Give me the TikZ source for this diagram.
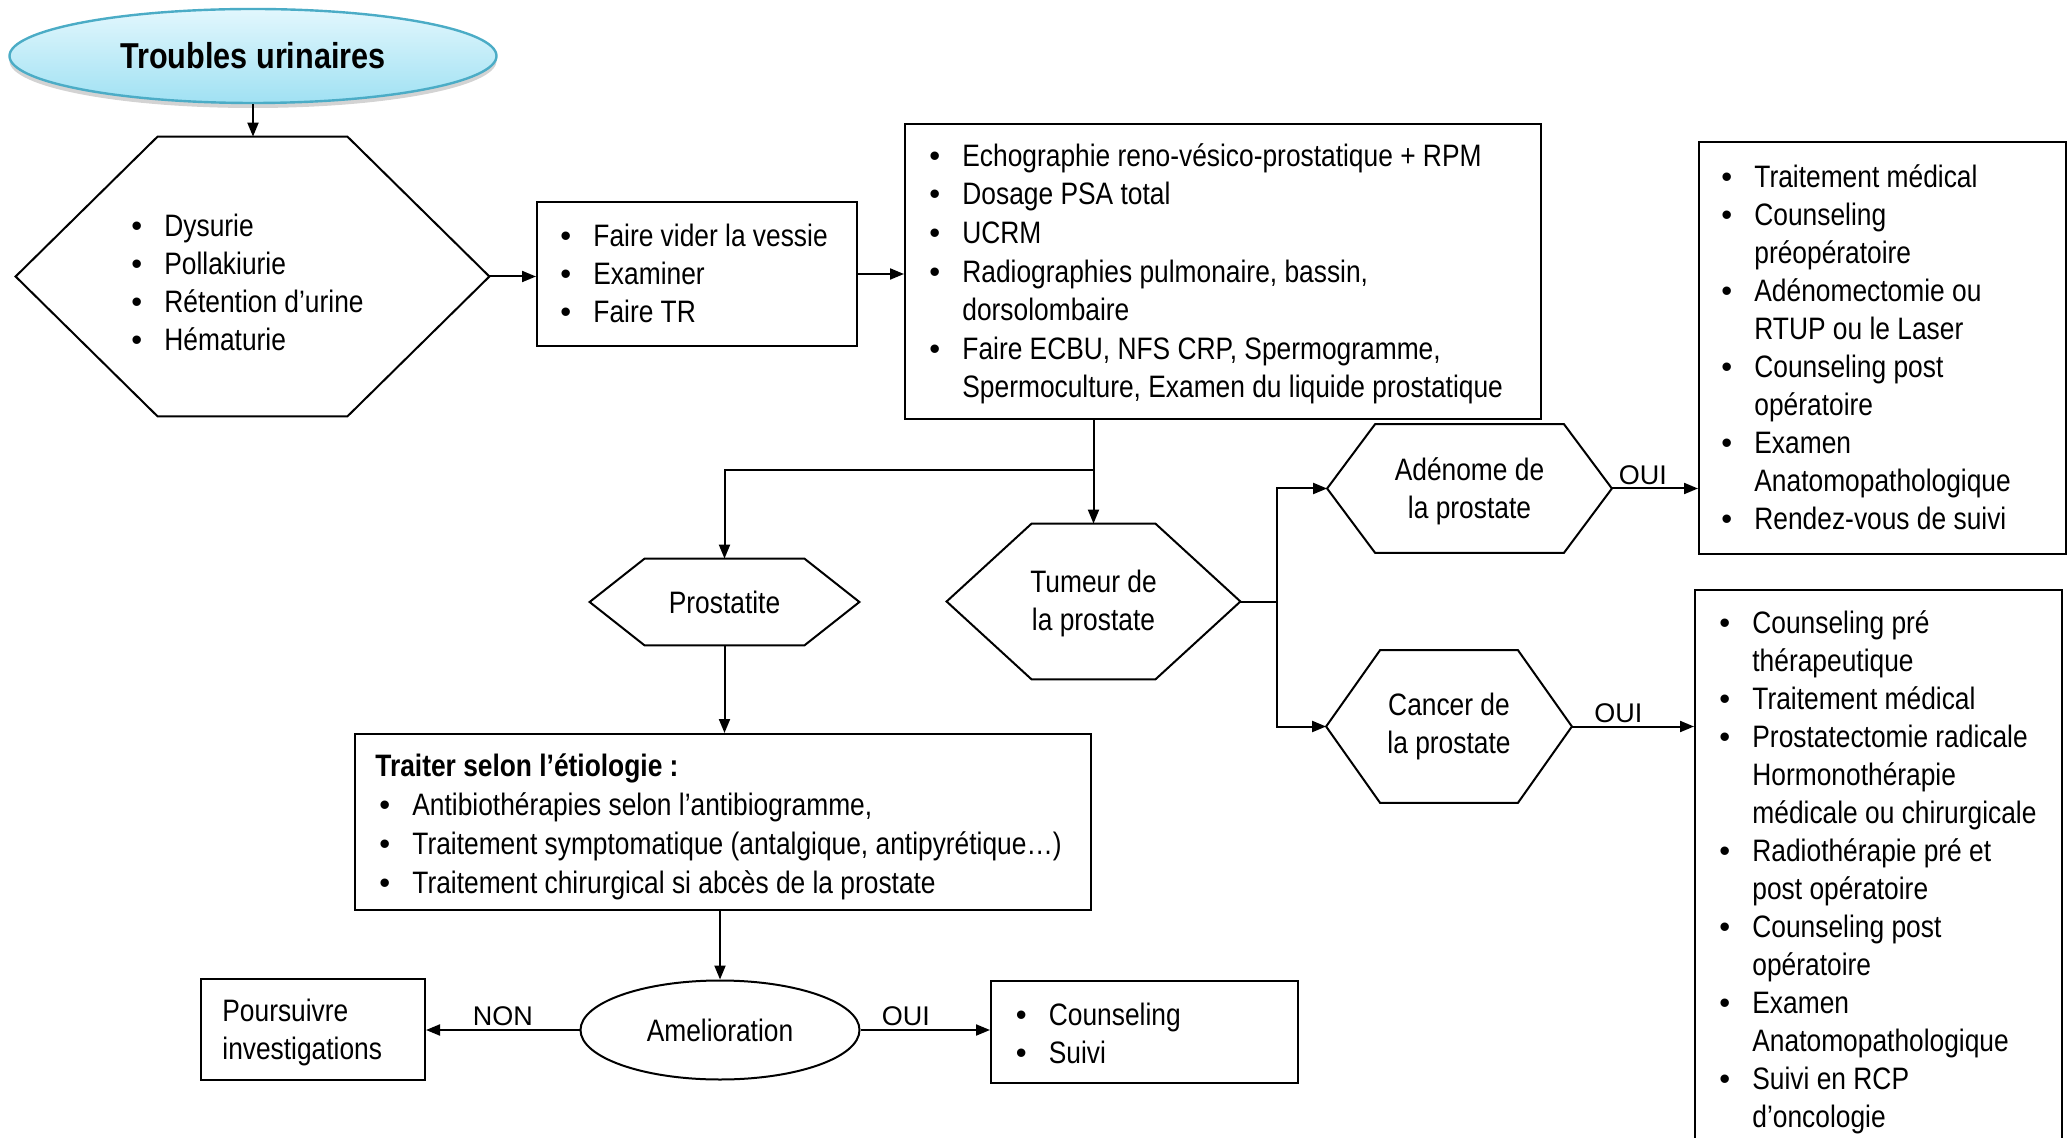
\documentclass[tikz,border=0pt]{standalone}
\usepackage{fontspec}
\setmainfont{Liberation Sans}[FakeStretch=0.85]
\newfontfamily\lblfont{Liberation Sans}
\newfontfamily\bulfont{Liberation Sans}
\usetikzlibrary{shapes.geometric,arrows.meta,shadows}

\definecolor{ellborder}{HTML}{4BACC6}
\definecolor{elltop}{HTML}{E2F7FD}
\definecolor{ellbot}{HTML}{A0E1F3}

\newcommand\myb{\makebox[16.5pt][l]{\bulfont •}}
\newcommand\myind{\hspace*{16.5pt}}
\newcommand\hexdraw[2]{\draw[hexline] ([xshift=#2]#1.north west) -- ([xshift=-#2]#1.north east) -- (#1.east) -- ([xshift=-#2]#1.south east) -- ([xshift=#2]#1.south west) -- (#1.west) -- cycle;}

\begin{document}
\begin{tikzpicture}[x=0.5pt,y=-0.5pt,
  font=\fontsize{15.5pt}{19pt}\selectfont,
  box/.style={draw, rectangle, inner sep=0pt, line width=1pt},
  hexnode/.style={rectangle, inner sep=0pt, align=center},
  hexline/.style={line width=1pt, line join=miter},
  txt/.style={anchor=west, align=left, inner sep=0pt},
  arr/.style={-{Triangle[length=7pt,width=5.5pt]}, line width=1pt},
  plain/.style={line width=1pt},
  lbl/.style={font=\lblfont\fontsize{13.5pt}{16pt}\selectfont, inner sep=1.5pt}]

\useasboundingbox (0,0) rectangle (2071,1138);
\clip (0,0) rectangle (2071,1138);

% Title ellipse
\node[ellipse, draw=ellborder, line width=1.2pt, top color=elltop, bottom color=ellbot,
      drop shadow={shadow xshift=0pt, shadow yshift=-2.5pt, opacity=0.35},
      minimum width=243.5pt, minimum height=47pt, inner sep=0pt,
      font=\fontsize{18pt}{22pt}\selectfont\bfseries] (troubles) at (253,56) {Troubles urinaires};

% Symptoms hexagon
\node[hexnode, minimum width=236.5pt, minimum height=139.5pt] (hexSym) at (252.5,276.5) {};
\hexdraw{hexSym}{71pt}
\node[txt] (symtext) at (131,282) {\myb Dysurie\\ \myb Pollakiurie\\ \myb Rétention d’urine\\ \myb Hématurie};

% Box 2
\node[box, minimum width=160pt, minimum height=72pt] (box2) at (697,274) {};
\node[txt] (box2t) at (560,273) {\myb Faire vider la vessie\\ \myb Examiner\\ \myb Faire TR};

% Box 3
\node[box, minimum width=318pt, minimum height=147.5pt] (box3) at (1223,271.5) {};
\node[txt, font=\fontsize{15.5pt}{19.3pt}\selectfont] (box3t) at (929,274) {\myb Echographie reno-vésico-prostatique + RPM\\ \myb Dosage PSA total\\ \myb UCRM\\ \myb Radiographies pulmonaire, bassin,\\ \myind dorsolombaire\\ \myb Faire ECBU, NFS CRP, Spermogramme,\\ \myind Spermoculture, Examen du liquide prostatique};

% Hexagons
\node[hexnode, minimum width=134.5pt, minimum height=43pt] (prost) at (724.5,602) {Prostatite};
\hexdraw{prost}{27.5pt}
\node[hexnode, minimum width=146.5pt, minimum height=77.5pt] (tumeur) at (1093.5,601.5) {\rule{0pt}{13pt}Tumeur de\\ la prostate};
\hexdraw{tumeur}{42.5pt}
\node[hexnode, minimum width=142pt, minimum height=64pt] (adenome) at (1469.5,488.5) {\rule{0pt}{14pt}Adénome de\\ la prostate};
\hexdraw{adenome}{24pt}
\node[hexnode, minimum width=122.5pt, minimum height=76pt] (cancer) at (1449,726.5) {Cancer de\\ la prostate};
\hexdraw{cancer}{27pt}

% Box 4
\node[box, minimum width=183.5pt, minimum height=206pt] (box4) at (1882.5,348) {};
\node[txt] (box4t) at (1721,347) {\myb Traitement médical\\ \myb Counseling\\ \myind préopératoire\\ \myb Adénomectomie ou\\ \myind RTUP ou le Laser\\ \myb Counseling post\\ \myind opératoire\\ \myb Examen\\ \myind Anatomopathologique\\ \myb Rendez-vous de suivi};

% Box 5
\node[box, minimum width=183.5pt, minimum height=277.5pt] (box5) at (1878.5,867.5) {};
\node[txt] (box5t) at (1719,872) {\myb Counseling pré\\ \myind thérapeutique\\ \myb Traitement médical\\ \myb Prostatectomie radicale\\ \myind Hormonothérapie\\ \myind médicale ou chirurgicale\\ \myb Radiothérapie pré et\\ \myind post opératoire\\ \myb Counseling post\\ \myind opératoire\\ \myb Examen\\ \myind Anatomopathologique\\ \myb Suivi en RCP\\ \myind d’oncologie};

% Box 6
\node[box, minimum width=368pt, minimum height=88pt] (box6) at (723,822) {};
\node[txt, font=\fontsize{15.5pt}{19.6pt}\selectfont] (box6t) at (375,827) {{\bfseries Traiter selon l’étiologie :}\\ \hspace*{2pt}\myb Antibiothérapies selon l’antibiogramme,\\ \hspace*{2pt}\myb Traitement symptomatique (antalgique, antipyrétique…)\\ \hspace*{2pt}\myb Traitement chirurgical si abcès de la prostate};

% Bottom row
\node[ellipse, draw, line width=1pt, minimum width=139.5pt, minimum height=49.5pt, inner sep=0pt] (amel) at (720,1030) {Amelioration};
\node[box, minimum width=112pt, minimum height=50.5pt] (pours) at (313,1029.5) {};
\node[txt] (pourst) at (222,1032) {Poursuivre\\ investigations};
\node[box, minimum width=153.5pt, minimum height=51pt] (couns) at (1144.5,1032) {};
\node[txt] (counst) at (1015.5,1033) {\myb Counseling\\ \myb Suivi};

% Junction coordinates
\coordinate (j1) at (1093.5,470);
\coordinate (j2) at (1277,601.5);

% Connectors
\draw[arr] (troubles.south) -- (troubles.south |- hexSym.north);
\draw[arr] (hexSym.east) -- (hexSym.east -| box2.west);
\draw[arr] (box2.east) -- (box2.east -| box3.west);
\draw[arr] (box3.south -| tumeur.north) -- (tumeur.north);
\draw[arr] (j1) -| (prost.north);
\draw[arr] (prost.south) -- (prost.south |- box6.north);
\draw[arr] (amel.north |- box6.south) -- (amel.north);
\draw[arr] (amel.west) -- (amel.west -| pours.east) node[lbl, midway, above] {NON};
\draw[arr] (amel.east) -- (amel.east -| couns.west) node[lbl, pos=0.35, above] {OUI};
\draw[plain] (tumeur.east) -- (j2);
\draw[arr] (j2) |- (adenome.west);
\draw[arr] (j2) |- (cancer.west);
\draw[arr] (adenome.east) -- (adenome.east -| box4.west) node[lbl, pos=0.36, above] {OUI};
\draw[arr] (cancer.east) -- (cancer.east -| box5.west) node[lbl, pos=0.38, above] {OUI};

\end{tikzpicture}
\end{document}
